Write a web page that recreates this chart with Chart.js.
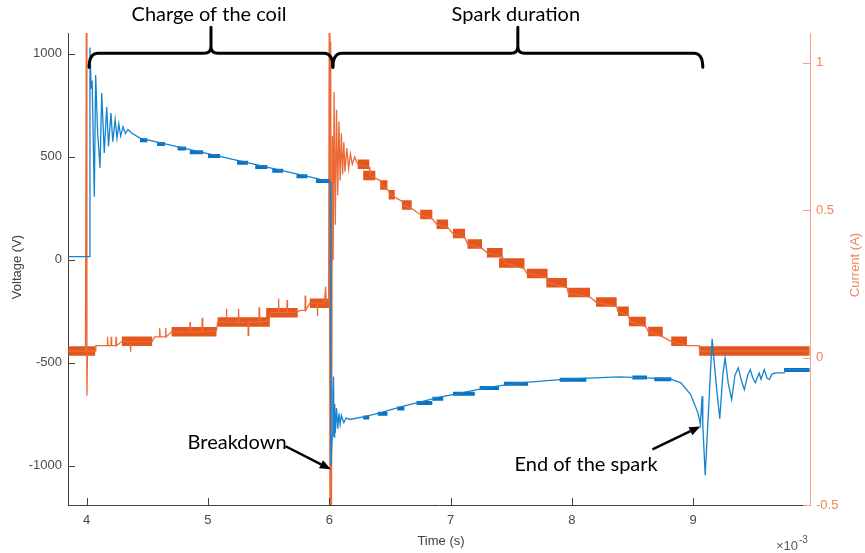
<!DOCTYPE html>
<html lang="en">
<head>
<meta charset="UTF-8">
<title>Spark voltage and current</title>
<script src="https://cdn.jsdelivr.net/npm/chart.js@4/dist/chart.umd.min.js"></script>
<style>
  body { margin: 0; background: #fff; }
  #chart { display: block; }
</style>
</head>
<body>
<canvas id="chart" width="865" height="553"></canvas>
<script>
// time is in units of 1e-3 s (axis shows x10^-3)
const xTicks = [4, 5, 6, 7, 8, 9];
const voltTicks = [-1000, -500, 0, 500, 1000];
const currTicks = [-0.5, 0, 0.5, 1];

// voltage trace [t, V]
const voltageTrace = [
  [3.85, 15], [4.02, 15], [4.027, 1030], [4.037, 830], [4.045, 870], [4.063, 306], [4.074, 896],
  [4.09, 620], [4.11, 445], [4.124, 809], [4.145, 518], [4.165, 741], [4.18, 549], [4.2, 712],
  [4.215, 573], [4.235, 680], [4.25, 590], [4.265, 660], [4.28, 600], [4.3, 645], [4.32, 612],
  [4.34, 632], [4.37, 615], [4.44, 590], [6.0, 380], [6.008, 378], [6.014, -1000], [6.025, -850],
  [6.03, -640], [6.035, -567], [6.04, -860], [6.045, -700], [6.05, -840], [6.06, -720], [6.07, -820],
  [6.08, -745], [6.09, -800], [6.10, -755], [6.12, -790], [6.14, -768], [6.17, -775], [6.31, -759],
  [6.44, -739], [6.58, -715], [6.745, -691], [6.91, -667], [7.02, -654], [7.30, -621], [7.57, -597],
  [7.98, -578], [8.39, -568], [8.81, -578], [8.90, -597], [8.98, -654], [9.04, -743], [9.06, -799],
  [9.074, -662], [9.08, -800], [9.10, -1045], [9.13, -700], [9.157, -384], [9.19, -600], [9.22, -771],
  [9.245, -560], [9.264, -476], [9.29, -600], [9.318, -678], [9.345, -560], [9.373, -525], [9.40, -590],
  [9.423, -630], [9.45, -560], [9.472, -533], [9.49, -570], [9.513, -597], [9.545, -550], [9.56, -580],
  [9.587, -533], [9.61, -575], [9.63, -581], [9.65, -555], [9.68, -549], [9.75, -549], [9.76, -533],
  [9.96, -533]
];
// quantisation blocks on the voltage trace [start, end, V]
const voltageSteps = [
  [4.44, 4.50, 580], [4.58, 4.645, 562], [4.75, 4.82, 540], [4.85, 4.96, 522], [5.00, 5.10, 503],
  [5.24, 5.33, 471], [5.39, 5.49, 450], [5.53, 5.62, 432], [5.73, 5.82, 405], [5.89, 6.00, 382],
  [6.28, 6.33, -765], [6.40, 6.48, -747], [6.56, 6.62, -722], [6.72, 6.85, -695], [6.85, 6.94, -675],
  [7.02, 7.20, -650], [7.24, 7.40, -622], [7.44, 7.64, -602], [7.90, 8.12, -582], [8.50, 8.62, -572],
  [8.68, 8.82, -580], [9.75, 9.96, -535]
];

// current trace [t, A]
const currentTrace = [
  [3.85, 0.022], [3.99, 0.022], [3.997, 1.15], [4.002, -0.13], [4.007, 0.022], [4.07, 0.022],
  [4.075, 0.04], [4.17, 0.04], [4.172, 0.07], [4.176, 0.04], [4.2, 0.04], [4.202, 0.07], [4.206, 0.04],
  [4.24, 0.04], [4.242, 0.07], [4.246, 0.04], [4.29, 0.055], [4.36, 0.055], [4.362, 0.02], [4.366, 0.055],
  [4.54, 0.055], [4.56, 0.07], [4.6, 0.07], [4.602, 0.1], [4.606, 0.07], [4.65, 0.07], [4.652, 0.1],
  [4.656, 0.07], [4.70, 0.087], [4.85, 0.087], [4.852, 0.12], [4.856, 0.087], [4.95, 0.087],
  [4.953, 0.135], [4.957, 0.087], [5.07, 0.09], [5.08, 0.12], [5.15, 0.12], [5.152, 0.165],
  [5.156, 0.12], [5.25, 0.12], [5.252, 0.165], [5.256, 0.12], [5.33, 0.12], [5.332, 0.075],
  [5.336, 0.12], [5.42, 0.12], [5.422, 0.17], [5.426, 0.12], [5.50, 0.125], [5.52, 0.152],
  [5.58, 0.152], [5.582, 0.2], [5.586, 0.152], [5.65, 0.152], [5.652, 0.195], [5.656, 0.152],
  [5.74, 0.155], [5.76, 0.16], [5.80, 0.16], [5.802, 0.21], [5.806, 0.16], [5.84, 0.184], [5.9, 0.184],
  [5.902, 0.14], [5.906, 0.184], [5.96, 0.184], [5.97, 0.24], [5.975, 0.19], [5.995, 0.19],
  [6.0, 1.15], [6.006, -0.6], [6.012, 1.07], [6.018, -0.6], [6.026, 0.75], [6.032, 0.33], [6.04, 0.9],
  [6.05, 0.45], [6.06, 0.84], [6.07, 0.55], [6.08, 0.8], [6.09, 0.6], [6.10, 0.76], [6.11, 0.62],
  [6.12, 0.73], [6.13, 0.63], [6.145, 0.71], [6.16, 0.64], [6.175, 0.69], [6.19, 0.655], [6.21, 0.68],
  [6.235, 0.655], [6.33, 0.645], [6.335, 0.617], [6.42, 0.6], [6.43, 0.585], [6.49, 0.565],
  [6.5, 0.552], [6.60, 0.53], [6.605, 0.517], [6.68, 0.505], [6.75, 0.485], [6.85, 0.47],
  [6.885, 0.452], [6.98, 0.44], [7.02, 0.42], [7.12, 0.405], [7.14, 0.385], [7.26, 0.37], [7.30, 0.355],
  [7.43, 0.34], [7.45, 0.32], [7.61, 0.3], [7.63, 0.285], [7.80, 0.27], [7.81, 0.253], [7.96, 0.237],
  [7.97, 0.22], [8.15, 0.205], [8.2, 0.188], [8.37, 0.173], [8.38, 0.157], [8.47, 0.14], [8.48, 0.122],
  [8.61, 0.105], [8.63, 0.088], [8.75, 0.07], [8.82, 0.055], [8.95, 0.04], [9.05, 0.04], [9.055, 0.022],
  [9.96, 0.022]
];
// quantisation blocks on the current trace [start, end, A]
const currentSteps = [
  [3.85, 4.07, 0.022], [4.29, 4.54, 0.055], [4.70, 5.07, 0.087], [5.08, 5.51, 0.12], [5.48, 5.74, 0.152],
  [5.84, 6.0, 0.184], [6.235, 6.33, 0.655], [6.28, 6.38, 0.617], [6.42, 6.48, 0.585], [6.49, 6.54, 0.552],
  [6.60, 6.68, 0.517], [6.75, 6.85, 0.485], [6.885, 6.98, 0.452], [7.02, 7.12, 0.42], [7.14, 7.26, 0.385],
  [7.30, 7.43, 0.355], [7.40, 7.61, 0.32], [7.63, 7.80, 0.285], [7.79, 7.96, 0.253], [7.97, 8.15, 0.22],
  [8.20, 8.37, 0.188], [8.38, 8.47, 0.157], [8.47, 8.61, 0.122], [8.63, 8.75, 0.088], [8.82, 8.95, 0.055],
  [9.05, 9.96, 0.022]
];

// annotations (data coordinates, voltage axis)
const braces = [
  { from: 4.02, to: 6.03, label: 'Charge of the coil' },
  { from: 6.03, to: 9.08, label: 'Spark duration' }
];
const arrows = [
  { label: 'Breakdown', text: [5.24, -885], tail: [5.64, -905], head: [6.013, -1017] },
  { label: 'End of the spark', text: [8.118, -993], tail: [8.665, -920], head: [9.06, -809] }
];

const toXY = arr => arr.map(p => ({ x: p[0], y: p[1] }));
const stepsToXY = steps => {
  const pts = [];
  steps.forEach(s => { pts.push({ x: s[0], y: s[2] }, { x: s[1], y: s[2] }, { x: s[1], y: null }); });
  return pts;
};

const BLUE = '#1583d0', BLUE_DARK = '#0a72be';
const ORANGE = '#ec6a36', ORANGE_DARK = '#e3561d';
const AXIS = '#404040', RIGHT_AXIS = '#f3a07e', RIGHT_TEXT = '#f0855c';
const TICK_FONT = { family: '"Liberation Sans", Arial, sans-serif', size: 13 };
const plainLabel = v => String(v);

function brace(ctx, xa, xb, yH, yEnd, yTip) {
  const xm = (xa + xb) / 2, r = 7, re = 9;
  ctx.beginPath();
  ctx.moveTo(xa, yEnd);
  ctx.quadraticCurveTo(xa, yH, xa + re, yH);
  ctx.lineTo(xm - r, yH);
  ctx.quadraticCurveTo(xm, yH, xm, yH - r);
  ctx.lineTo(xm, yTip);
  ctx.moveTo(xm, yH - r);
  ctx.quadraticCurveTo(xm, yH, xm + r, yH);
  ctx.lineTo(xb - re, yH);
  ctx.quadraticCurveTo(xb, yH, xb, yEnd);
  ctx.stroke();
  return xm;
}

function arrow(ctx, x0, y0, x1, y1) {
  const ang = Math.atan2(y1 - y0, x1 - x0), len = 11, w = 4.5;
  const bx = x1 - len * Math.cos(ang), by = y1 - len * Math.sin(ang);
  ctx.beginPath();
  ctx.moveTo(x0, y0);
  ctx.lineTo(bx, by);
  ctx.stroke();
  ctx.beginPath();
  ctx.moveTo(x1, y1);
  ctx.lineTo(bx + w * Math.sin(ang), by - w * Math.cos(ang));
  ctx.lineTo(bx - w * Math.sin(ang), by + w * Math.cos(ang));
  ctx.closePath();
  ctx.fill();
}

const decor = {
  id: 'decor',
  afterDraw(chart) {
    const { ctx, chartArea: a, scales: { x, y, y1 } } = chart;
    ctx.save();

    // inward tick marks, matlab style
    ctx.lineWidth = 1;
    ctx.strokeStyle = AXIS;
    ctx.beginPath();
    xTicks.forEach(v => {
      const p = Math.round(x.getPixelForValue(v)) + 0.5;
      ctx.moveTo(p, a.bottom); ctx.lineTo(p, a.bottom - 7);
    });
    voltTicks.forEach(v => {
      const p = Math.round(y.getPixelForValue(v)) + 0.5;
      ctx.moveTo(a.left, p); ctx.lineTo(a.left + 7, p);
    });
    ctx.stroke();
    ctx.strokeStyle = RIGHT_AXIS;
    ctx.beginPath();
    currTicks.forEach(v => {
      const p = Math.round(y1.getPixelForValue(v)) + 0.5;
      ctx.moveTo(a.right, p); ctx.lineTo(a.right - 7, p);
    });
    ctx.stroke();

    // axis titles
    ctx.font = '13px "Liberation Sans", Arial, sans-serif';
    ctx.textAlign = 'center';
    ctx.textBaseline = 'middle';
    ctx.fillStyle = AXIS;
    ctx.fillText('Time (s)', (a.left + a.right) / 2 + 2, 541);
    ctx.save();
    ctx.translate(17, (a.top + a.bottom) / 2 - 2);
    ctx.rotate(-Math.PI / 2);
    ctx.fillText('Voltage (V)', 0, 0);
    ctx.restore();
    ctx.save();
    ctx.fillStyle = RIGHT_TEXT;
    ctx.translate(855, (a.top + a.bottom) / 2 - 4);
    ctx.rotate(-Math.PI / 2);
    ctx.fillText('Current (A)', 0, 0);
    ctx.restore();
    // x10^-3 exponent label
    ctx.textAlign = 'left';
    ctx.fillStyle = '#555';
    ctx.font = '13px "Liberation Sans", Arial, sans-serif';
    ctx.fillText('\u00d710', a.right - 34, 546);
    ctx.font = '10px "Liberation Sans", Arial, sans-serif';
    ctx.fillText('-3', a.right - 11, 540);

    // braces and labels
    ctx.strokeStyle = '#000';
    ctx.fillStyle = '#000';
    ctx.lineWidth = 3;
    ctx.lineCap = 'round';
    ctx.lineJoin = 'round';
    ctx.font = '20px Lato, "Open Sans", sans-serif';
    ctx.textAlign = 'center';
    ctx.textBaseline = 'middle';
    braces.forEach(b => {
      const yH = y.getPixelForValue(1002);
      const xm = brace(ctx, x.getPixelForValue(b.from), x.getPixelForValue(b.to),
        yH, y.getPixelForValue(934), yH - 26);
      ctx.fillText(b.label, xm - 2, 15);
    });

    // arrows with labels
    ctx.lineWidth = 2.5;
    ctx.lineCap = 'butt';
    arrows.forEach(ar => {
      arrow(ctx, x.getPixelForValue(ar.tail[0]), y.getPixelForValue(ar.tail[1]),
        x.getPixelForValue(ar.head[0]), y.getPixelForValue(ar.head[1]));
      ctx.fillText(ar.label, x.getPixelForValue(ar.text[0]), y.getPixelForValue(ar.text[1]));
    });
    ctx.restore();
  }
};

new Chart(document.getElementById('chart'), {
  type: 'line',
  data: {
    datasets: [
      { data: toXY(voltageTrace), yAxisID: 'y', borderColor: BLUE, borderWidth: 1.3, order: 0 },
      { data: stepsToXY(voltageSteps), yAxisID: 'y', borderColor: BLUE_DARK, borderWidth: 4, order: 1 },
      { data: toXY(currentTrace), yAxisID: 'y1', borderColor: ORANGE, borderWidth: 1.3, order: 2 },
      { data: stepsToXY(currentSteps), yAxisID: 'y1', borderColor: ORANGE_DARK, borderWidth: 9.5, order: 3 }
    ]
  },
  options: {
    responsive: false,
    animation: false,
    events: [],
    layout: { padding: { top: 33, left: 0, right: 0, bottom: 0 } },
    elements: {
      point: { radius: 0 },
      line: { tension: 0, borderCapStyle: 'butt', borderJoinStyle: 'miter', fill: false }
    },
    datasets: { line: { clip: 0, spanGaps: false } },
    plugins: { legend: { display: false }, tooltip: { enabled: false } },
    scales: {
      x: {
        type: 'linear',
        min: 3.846,
        max: 9.964,
        afterBuildTicks: s => { s.ticks = xTicks.map(v => ({ value: v })); },
        afterFit: s => { s.height = 48; },
        grid: { display: true, drawOnChartArea: false, drawTicks: false },
        border: { display: true, color: AXIS, width: 1 },
        ticks: { color: '#4a4a4a', font: TICK_FONT, padding: 8, maxRotation: 0, callback: plainLabel }
      },
      y: {
        position: 'left',
        min: -1190,
        max: 1100,
        afterBuildTicks: s => { s.ticks = voltTicks.map(v => ({ value: v })); },
        afterFit: s => { s.width = 68; },
        grid: { display: true, drawOnChartArea: false, drawTicks: false },
        border: { display: true, color: AXIS, width: 1 },
        ticks: { color: '#4a4a4a', font: TICK_FONT, padding: 6, callback: plainLabel }
      },
      y1: {
        position: 'right',
        min: -0.5,
        max: 1.1,
        afterBuildTicks: s => { s.ticks = currTicks.map(v => ({ value: v })); },
        afterFit: s => { s.width = 55; },
        grid: { display: true, drawOnChartArea: false, drawTicks: false },
        border: { display: true, color: RIGHT_AXIS, width: 1 },
        ticks: { color: RIGHT_TEXT, font: TICK_FONT, padding: 6, callback: plainLabel }
      }
    }
  },
  plugins: [decor]
});
</script>
</body>
</html>
